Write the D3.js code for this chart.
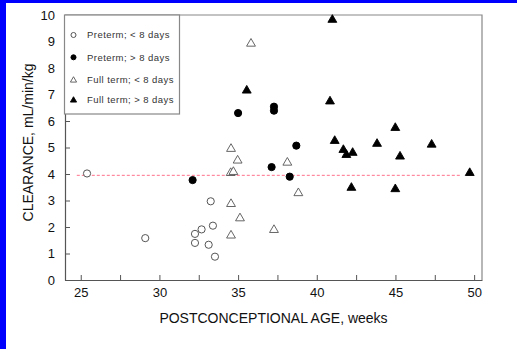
<!DOCTYPE html>
<html>
<head>
<meta charset="utf-8">
<script src="https://cdn.jsdelivr.net/npm/d3@7"></script>
<style>
  html, body { margin: 0; padding: 0; background: #fff; }
  svg { display: block; }
</style>
</head>
<body>
<script>
// Clearance vs postconceptional age, four infant groups
const pretermLt8 = [
  [25.4, 4.02], [29.1, 1.58], [32.26, 1.74], [32.26, 1.40], [32.68, 1.91],
  [33.4, 2.05], [33.26, 2.97], [33.13, 1.33], [33.53, 0.88]
];
const pretermGt8 = [
  [32.11, 3.77], [35.0, 6.30], [37.28, 6.54], [37.28, 6.39],
  [38.7, 5.07], [37.13, 4.26], [38.28, 3.90]
];
const fullLt8 = [
  [35.82, 8.95], [34.55, 4.98], [34.97, 4.54], [34.53, 4.07], [34.7, 4.11],
  [34.55, 2.90], [35.12, 2.36], [34.55, 1.71], [37.28, 1.92], [38.13, 4.46],
  [38.83, 3.31]
];
const fullGt8 = [
  [40.99, 9.85], [35.55, 7.18], [40.84, 6.77], [41.14, 5.28], [41.69, 4.94],
  [41.88, 4.75], [42.28, 4.83], [43.83, 5.17], [44.99, 5.77], [42.2, 3.51],
  [44.99, 3.46], [45.29, 4.69], [47.3, 5.14], [49.72, 4.07]
];
const refLine = { x0: 24.75, x1: 49.1, y: 3.95 };
const xTicks = [25, 30, 35, 40, 45, 50];
const xMinorTicks = [27.5, 32.5, 37.5, 42.5, 47.5];
const yTicks = [0, 1, 2, 3, 4, 5, 6, 7, 8, 9, 10];
const legendLabels = [
  "Preterm; < 8 days", "Preterm; > 8 days",
  "Full term; < 8 days", "Full term; > 8 days"
];

const W = 517, H = 349;
const M = { left: 65, top: 15, right: 482, bottom: 280 };

const svg = d3.select("body").append("svg").attr("width", W).attr("height", H);

// blue page edge
svg.append("rect").attr("x", 0).attr("y", 0).attr("width", W).attr("height", 3).attr("fill", "#0000ff");
svg.append("rect").attr("x", 0).attr("y", 0).attr("width", 6).attr("height", H).attr("fill", "#0000ff");

const x = d3.scaleLinear().domain([24, 50.5]).range([M.left, M.right]);
const y = d3.scaleLinear().domain([0, 10]).range([M.bottom, M.top]);

// frame: top and right edges
svg.append("path")
  .attr("d", `M${M.left},${M.top}H${M.right}V${M.bottom}`)
  .attr("fill", "none").attr("stroke", "#888").attr("stroke-width", 1.2);

// x axis
const gx = svg.append("g").attr("transform", `translate(0,${M.bottom})`)
  .call(d3.axisBottom(x).tickValues(xTicks).tickSizeInner(-5).tickSizeOuter(0).tickPadding(8));
svg.append("g").attr("transform", `translate(0,${M.bottom})`)
  .call(d3.axisBottom(x).tickValues(xMinorTicks).tickSizeInner(-5).tickSizeOuter(0).tickFormat(""))
  .select(".domain").remove();

// y axis
const gy = svg.append("g").attr("transform", `translate(${M.left},0)`)
  .call(d3.axisLeft(y).tickValues(yTicks).tickSizeInner(-5).tickSizeOuter(0).tickPadding(10));

[gx, gy].forEach(g => {
  g.select(".domain").attr("stroke", "#555").attr("stroke-width", 1.2);
  g.selectAll(".tick text").attr("font-family", "Liberation Sans, Arial, sans-serif")
    .attr("font-size", 13).attr("fill", "#111");
});
svg.selectAll(".tick line").attr("stroke", "#555");

// axis titles
svg.append("text")
  .attr("x", (M.left + M.right) / 2 + 0).attr("y", 323)
  .attr("text-anchor", "middle")
  .attr("font-family", "Liberation Sans, Arial, sans-serif").attr("font-size", 14)
  .attr("fill", "#111")
  .text("POSTCONCEPTIONAL AGE, weeks");
svg.append("text")
  .attr("transform", `translate(33,${(M.top + M.bottom) / 2 - 5}) rotate(-90)`)
  .attr("text-anchor", "middle")
  .attr("font-family", "Liberation Sans, Arial, sans-serif").attr("font-size", 14)
  .attr("fill", "#111")
  .text("CLEARANCE, mL/min/kg");

// reference line
svg.append("line")
  .attr("x1", x(refLine.x0)).attr("x2", x(refLine.x1))
  .attr("y1", y(refLine.y)).attr("y2", y(refLine.y))
  .attr("stroke", "#ff6f8a").attr("stroke-width", 1).attr("stroke-dasharray", "3,2");

// symbols
const tri = s => d3.symbol().type(d3.symbolTriangle).size(s)();
const groups = [
  { data: pretermLt8, kind: "circle", fill: "#fff" },
  { data: pretermGt8, kind: "circle", fill: "#000" },
  { data: fullLt8, kind: "tri", fill: "#fff" },
  { data: fullGt8, kind: "tri", fill: "#000" }
];

function drawMark(sel, g, scale) {
  if (g.kind === "circle") {
    sel.append("circle").attr("r", 3.6 * scale)
      .attr("fill", g.fill).attr("stroke", g.fill === "#fff" ? "#555" : "#000").attr("stroke-width", 1);
  } else {
    sel.append("path").attr("d", tri(34 * scale * scale)).attr("transform", "translate(0,0.8)")
      .attr("fill", g.fill).attr("stroke", g.fill === "#fff" ? "#555" : "#000").attr("stroke-width", 0.9);
  }
}

groups.forEach(g => {
  svg.append("g").selectAll("g").data(g.data).join("g")
    .attr("transform", d => `translate(${x(d[0])},${y(d[1])})`)
    .each(function () { drawMark(d3.select(this), g, 1); });
});

// legend
const lg = svg.append("g");
lg.append("rect").attr("x", 64.5).attr("y", M.top).attr("width", 115).attr("height", 99)
  .attr("fill", "#fff").attr("stroke", "#888").attr("stroke-width", 1.2);
const rowsY = [35, 57.3, 79.5, 99.5];
groups.forEach((g, i) => {
  const row = lg.append("g").attr("transform", `translate(73.5,${rowsY[i]})`);
  drawMark(row, g, 0.7);
  row.append("text").attr("x", 13.5).attr("y", 0).attr("dy", "0.35em")
    .attr("font-family", "Liberation Sans, Arial, sans-serif").attr("font-size", 9.5)
    .attr("letter-spacing", 0.45).attr("fill", "#333")
    .text(legendLabels[i]);
});
</script>
</body>
</html>
